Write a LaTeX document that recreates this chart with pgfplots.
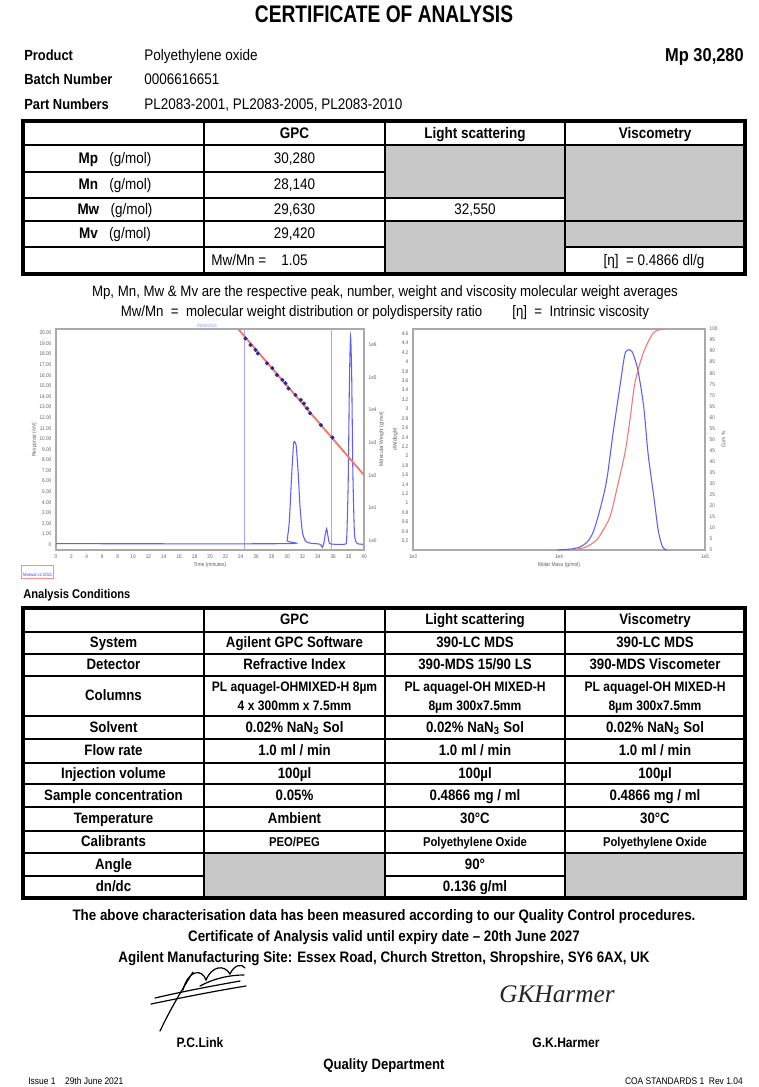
\documentclass[border=0pt]{standalone}
\usepackage{pgfplots}
\pgfplotsset{compat=1.18}
\usepackage{pgfplotstable}
\usepackage{fontspec}
\setmainfont{Liberation Sans}[FakeStretch=0.88]
\newfontfamily\sigfont{Liberation Serif}
\newfontfamily\titlefont{Liberation Sans Bold}[FakeStretch=0.8]
\definecolor{cellgray}{RGB}{200,200,200}
\definecolor{riblue}{RGB}{95,95,245}
\definecolor{calred}{RGB}{240,120,110}
\definecolor{dotblue}{RGB}{40,40,150}
\definecolor{axgray}{RGB}{170,170,170}
\definecolor{ticktext}{RGB}{95,95,95}
\newcommand{\setfs}[1]{\fontsize{#1}{#1}\selectfont}

\pgfplotstableread{
t ri
0 0.1
29.7 0.1
30.0 0.4
30.3 2.2
30.6 6.5
30.85 9.5
31.0 9.7
31.2 9.3
31.45 6.8
31.7 3.5
32.0 1.2
32.4 0.35
33.0 0.15
34.0 0.08
34.4 0.0
34.6 -0.25
34.8 0.2
35.0 1.1
35.15 1.5
35.3 0.9
35.5 0.15
36.0 0.05
37.5 0.05
37.75 0.6
37.95 6
38.1 15
38.25 19.7
38.4 16
38.55 7
38.75 1.2
39.0 0.2
39.5 0.05
40.0 0.05
}\ritable

\pgfplotstableread{
t M
24.6 1548817
25.25 977237
25.9 691831
26.2 537032
27.4 269153
28.1 190546
28.7 117490
29.4 83176
29.8 66069
30.2 45709
31.1 28840
31.8 20417
32.2 15849
32.6 11220
33.0 7943
34.4 3467
35.9 1445
}\caltable

\pgfplotstableread{
M w
9772 0
12000 0.02
13804 0.06
15488 0.16
16982 0.35
18197 0.63
19953 1.1
21380 1.55
23442 2.48
26303 3.54
28184 4.15
29512 4.25
30200 4.26
31623 4.22
32359 4.15
34674 3.83
38019 3.05
40738 2.05
44668 1.12
47863 0.41
51286 0.06
54954 0
}\mwdtable

\pgfplotstableread{
M c
12000 0
13183 0.3
15453 1.5
18072 4.5
20090 9.1
22336 15
24774 27
28249 43.8
30620 58.9
33113 75.5
37757 89.1
44259 98.2
51761 100
}\cumtable

\begin{document}
\begin{tikzpicture}
\begin{scope}[x=0.75pt,y=-0.75pt, every node/.append style={text height=0.72em, text depth=0pt, inner sep=0pt}]
\path[use as bounding box, fill=white] (0,0) rectangle (759,1087);

% ---------- header ----------
\node[font=\titlefont\setfs{18}] at (384,18) {CERTIFICATE OF ANALYSIS};
\node[anchor=west,font=\bfseries\setfs{11}] at (24,56) {Product};
\node[anchor=west,font=\bfseries\setfs{11}] at (24,80) {Batch Number};
\node[anchor=west,font=\bfseries\setfs{11}] at (24,105) {Part Numbers};
\node[anchor=west,font=\setfs{11.5}] at (144,56) {Polyethylene oxide};
\node[anchor=west,font=\setfs{11.5}] at (144,80) {0006616651};
\node[anchor=west,font=\setfs{11.5}] at (144,105) {PL2083-2001, PL2083-2005, PL2083-2010};
\node[anchor=east,font=\bfseries\setfs{14}] at (744,57) {Mp 30,280};

% ---------- table 1 ----------
\fill[cellgray] (385,145) rectangle (565,198);
\fill[cellgray] (385,221) rectangle (565,274);
\fill[cellgray] (565,145) rectangle (745,221);
\fill[cellgray] (565,221) rectangle (745,247);
\begin{scope}[line width=1.3pt]
\draw (204,121) -- (204,274);
\draw (385,121) -- (385,274);
\draw (565,121) -- (565,274);
\draw (23,145) -- (745,145);
\draw (23,172) -- (385,172);
\draw (23,198) -- (565,198);
\draw (23,221) -- (745,221);
\draw (23,247) -- (385,247);
\draw (565,247) -- (745,247);
\end{scope}
\draw[line width=2.8pt] (23,121) rectangle (745,274);
\begin{scope}[font=\bfseries\setfs{11.5}]
\node at (294.5,134) {GPC};
\node at (475,134) {Light scattering};
\node at (655,134) {Viscometry};
\end{scope}
\begin{scope}[font=\setfs{11.5}]
\node at (115,159) {\textbf{Mp}\ \ \ (g/mol)};
\node at (115,185) {\textbf{Mn}\ \ \ (g/mol)};
\node at (115,210) {\textbf{Mw}\ \ \ (g/mol)};
\node at (115,234) {\textbf{Mv}\ \ \ (g/mol)};
\node at (294.5,159) {30,280};
\node at (294.5,185) {28,140};
\node at (294.5,210) {29,630};
\node at (294.5,234) {29,420};
\node at (475,210) {32,550};
\node[anchor=west] at (211,261) {Mw/Mn =};
\node[anchor=west] at (281,261) {1.05};
\node at (654,261) {[η]\ \ = 0.4866 dl/g};
\end{scope}

% ---------- notes ----------
\node[font=\setfs{11.3}] at (385,292) {Mp, Mn, Mw \& Mv are the respective peak, number, weight and viscosity molecular weight averages};
\node[font=\setfs{11.3}] at (385,312) {Mw/Mn\ \ =\ \ molecular weight distribution or polydispersity ratio\qquad[η]\ \ =\ \ Intrinsic viscosity};

% chart small texts
\node[font=\setfs{3.5},text=riblue!70] at (207,323) {29/06/2021};
\node[anchor=west,draw=red!45,line width=0.8pt,fill=white,text=blue!75,font=\setfs{3.5},inner sep=1.2pt] at (21,572) {Manual vs 2021};

% ---------- analysis conditions ----------
\node[anchor=west,font=\bfseries\setfs{9.5}] at (23,594) {Analysis Conditions};
\fill[cellgray] (204,853) rectangle (385,898);
\fill[cellgray] (565,853) rectangle (745,898);
\begin{scope}[line width=1.3pt]
\draw (204,608) -- (204,898);
\draw (385,608) -- (385,898);
\draw (565,608) -- (565,898);
\foreach \yy in {632,654,676,716,739,763,784,807,831,853} {\draw (23,\yy) -- (745,\yy);}
\draw (23,876) -- (204,876);
\draw (385,876) -- (565,876);
\end{scope}
\draw[line width=2.8pt] (23,608) rectangle (745,898);
\begin{scope}[font=\bfseries\setfs{11.3}]
\node at (294.5,620) {GPC};
\node at (475,620) {Light scattering};
\node at (655,620) {Viscometry};
\node at (113.5,643) {System};
\node at (113.5,665) {Detector};
\node at (113.5,696) {Columns};
\node at (113.5,727.5) {Solvent};
\node at (113.5,751) {Flow rate};
\node at (113.5,773.5) {Injection volume};
\node at (113.5,795.5) {Sample concentration};
\node at (113.5,819) {Temperature};
\node at (113.5,842) {Calibrants};
\node at (113.5,864.5) {Angle};
\node at (113.5,887) {dn/dc};
\node at (294.5,643) {Agilent GPC Software};
\node at (475,643) {390-LC MDS};
\node at (655,643) {390-LC MDS};
\node at (294.5,665) {Refractive Index};
\node at (475,665) {390-MDS 15/90 LS};
\node at (655,665) {390-MDS Viscometer};
\node at (294.5,727.5) {0.02\% NaN\textsubscript{3} Sol};
\node at (475,727.5) {0.02\% NaN\textsubscript{3} Sol};
\node at (655,727.5) {0.02\% NaN\textsubscript{3} Sol};
\node at (294.5,751) {1.0 ml / min};
\node at (475,751) {1.0 ml / min};
\node at (655,751) {1.0 ml / min};
\node at (294.5,773.5) {100µl};
\node at (475,773.5) {100µl};
\node at (655,773.5) {100µl};
\node at (294.5,795.5) {0.05\%};
\node at (475,795.5) {0.4866 mg / ml};
\node at (655,795.5) {0.4866 mg / ml};
\node at (294.5,819) {Ambient};
\node at (475,819) {30°C};
\node at (655,819) {30°C};
\node at (475,864.5) {90°};
\node at (475,887) {0.136 g/ml};
\end{scope}
\begin{scope}[font=\bfseries\setfs{10.3}]
\node at (294.5,687) {PL aquagel-OHMIXED-H 8µm};
\node at (294.5,706) {4 x 300mm x 7.5mm};
\node at (475,687) {PL aquagel-OH MIXED-H};
\node at (475,706) {8µm 300x7.5mm};
\node at (655,687) {PL aquagel-OH MIXED-H};
\node at (655,706) {8µm 300x7.5mm};
\end{scope}
\begin{scope}[font=\bfseries\setfs{9.6}]
\node at (294.5,842) {PEO/PEG};
\node at (475,842) {Polyethylene Oxide};
\node at (655,842) {Polyethylene Oxide};
\end{scope}

% ---------- footer ----------
\node[font=\bfseries\setfs{11.4}] at (384,916) {The above characterisation data has been measured according to our Quality Control procedures.};
\node[font=\bfseries\setfs{11.4}] at (384,937) {Certificate of Analysis valid until expiry date -- 20th June 2027};
\node[font=\bfseries\setfs{11.4}] at (384,958) {Agilent Manufacturing Site: Essex Road, Church Stretton, Shropshire, SY6 6AX, UK};

\begin{scope}[line width=0.9pt, line cap=round]
\draw (160,1031) .. controls (170,1010) and (180,993) .. (193,972);
\draw (151,1004) .. controls (180,998) and (215,991) .. (246,986);
\draw (155,998) .. controls (185,991) and (212,986) .. (240,981);
\draw (183,990) .. controls (188,970) and (202,968) .. (206,980) .. controls (212,966) and (224,964) .. (230,974) .. controls (234,965) and (242,963) .. (245,968);
\draw (200,986) .. controls (215,978) and (230,975) .. (244,975);
\end{scope}
\node[font=\sigfont\itshape\setfs{19}, text=black!85] at (557,998) {GKHarmer};

\node[font=\bfseries\setfs{10.3}] at (200,1043) {P.C.Link};
\node[font=\bfseries\setfs{10.3}] at (566,1043) {G.K.Harmer};
\node[font=\bfseries\setfs{11.2}] at (384,1065) {Quality Department};
\node[anchor=west,font=\setfs{7.2}] at (28,1080) {Issue 1\quad 29th June 2021};
\node[anchor=east,font=\setfs{7.2}] at (743,1080) {COA STANDARDS 1\ \ Rev 1.04};
\end{scope}

% ---------- charts ----------
\pgfplotsset{
  every axis/.append style={
    /pgf/number format/assume math mode=true,
    scale only axis, anchor=south west,
    axis line style={axgray, line width=1.1pt},
    tick style={draw=none},
    ticklabel style={font=\setfs{4}, text=ticktext},
    label style={font=\setfs{4.2}, text=ticktext},
  }
}
\begin{axis}[at={(42pt,-412.5pt)}, width=231pt, height=165.75pt,
  xmin=0, xmax=40, ymin=-0.5, ymax=20.36,
  xtick={0,2,...,40},
  ytick={0,1,...,20},
  yticklabels={0,1.00,2.00,3.00,4.00,5.00,6.00,7.00,8.00,9.00,10.00,11.00,12.00,13.00,14.00,15.00,16.00,17.00,18.00,19.00,20.00},
  xlabel={Time (minutes)}, xlabel style={yshift=4pt},
  ylabel={Response (mV)}, ylabel style={yshift=-5pt}]
\addplot[riblue!55, line width=0.5pt] coordinates {(24.5,-0.5) (24.5,20.36)};
\addplot[riblue!55, line width=0.5pt] coordinates {(35.8,-0.5) (35.8,20.36)};
\addplot[riblue, line width=0.8pt, smooth, tension=0.4] table[x=t,y=ri] {\ritable};
\end{axis}
\begin{axis}[at={(42pt,-412.5pt)}, width=231pt, height=165.75pt,
  xmin=0, xmax=40, ymode=log, ymin=0.518, ymax=3.02e6,
  axis x line=none, axis y line*=right,
  ytick={1,10,100,1000,10000,100000,1000000},
  yticklabels={1e0,1e1,1e2,1e3,1e4,1e5,1e6},
  ylabel={Molecular Weight (g/mol)}, ylabel style={yshift=5pt}]
\addplot[calred, line width=1.4pt] coordinates {(23.7,2951209) (40,102.3)};
\addplot[only marks, mark=*, mark size=1.3pt, dotblue] table[x=t,y=M] {\caltable};
\end{axis}

\begin{axis}[at={(309.75pt,-412.5pt)}, width=219pt, height=165.75pt,
  xmode=log, xmin=1000, xmax=100000, ymin=0, ymax=4.7,
  xtick={1000,10000,100000}, xticklabels={1e3,1e4,1e5},
  ytick={0.2,0.4,0.6,0.8,1,1.2,1.4,1.6,1.8,2,2.2,2.4,2.6,2.8,3,3.2,3.4,3.6,3.8,4,4.2,4.4,4.6},
  yticklabels={0.2,0.4,0.6,0.8,1,1.2,1.4,1.6,1.8,2,2.2,2.4,2.6,2.8,3,3.2,3.4,3.6,3.8,4,4.2,4.4,4.6},
  xlabel={Molar Mass (g/mol)}, xlabel style={yshift=4pt},
  ylabel={dW/dlogM}, ylabel style={yshift=-4pt}]
\addplot[riblue, line width=0.8pt, smooth] table[x=M,y=w] {\mwdtable};
\end{axis}
\begin{axis}[at={(309.75pt,-412.5pt)}, width=219pt, height=165.75pt,
  xmode=log, xmin=1000, xmax=100000, ymin=0, ymax=100,
  axis x line=none, axis y line*=right,
  ytick={0,5,...,100},
  yticklabels={0,5,10,15,20,25,30,35,40,45,50,55,60,65,70,75,80,85,90,95,100},
  ylabel={Cum \%}, ylabel style={yshift=4pt}]
\addplot[calred, line width=0.8pt, smooth] table[x=M,y=c] {\cumtable};
\end{axis}
\end{tikzpicture}
\end{document}
